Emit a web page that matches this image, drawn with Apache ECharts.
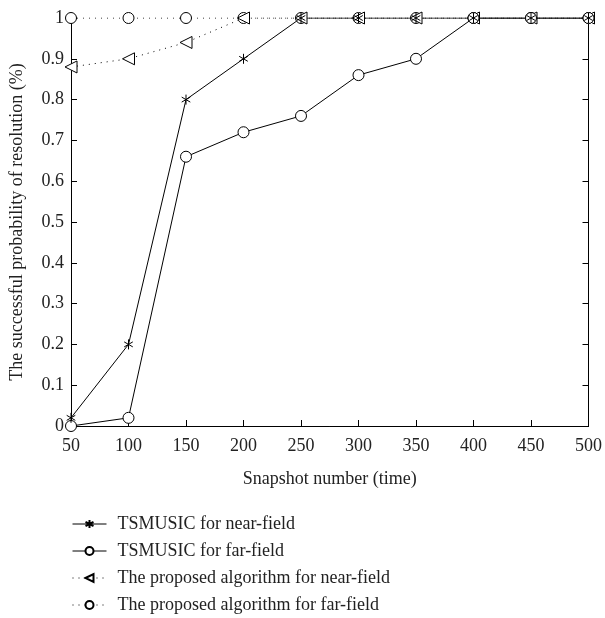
<!DOCTYPE html>
<html lang="en">
<head>
    <meta charset="UTF-8">
    <title>Successful probability of resolution</title>
    <script src="https://cdn.jsdelivr.net/npm/echarts@6.0.0/dist/echarts.min.js"></script>
</head>
<body style="margin:0; background:#fff;">
    <div id="main" style="width:605px;height:618px;"></div>
    <script>
        // snapshot numbers
        var snapshots = [50, 100, 150, 200, 250, 300, 350, 400, 450, 500];
        // series values
        var tsNear = [0.02, 0.2, 0.8, 0.9, 1, 1, 1, 1, 1, 1];
        var tsFar = [0, 0.02, 0.66, 0.72, 0.76, 0.86, 0.9, 1, 1, 1];
        var propNear = [0.88, 0.9, 0.94, 1, 1, 1, 1, 1, 1, 1];
        var propFar = [1, 1, 1, 1, 1, 1, 1, 1, 1, 1];
        var names = [
            'TSMUSIC for near-field',
            'TSMUSIC for far-field',
            'The proposed algorithm for near-field',
            'The proposed algorithm for far-field'
        ];

        function pairs(vals) {
            return snapshots.map(function (x, i) { return [x, vals[i]]; });
        }

        var font = 'Liberation Serif';
        // marker shapes
        var star = 'path://M5,0 L5,10 M0.7,2.5 L9.3,7.5 M0.7,7.5 L9.3,2.5';
        var triLeft = 'path://M0,5 L10,0 L10,10 Z';
        var ring = 'path://M10,5 A5,5 0 1 1 0,5 A5,5 0 1 1 10,5 Z';

        function mkSeries(name, vals, symbol, size, dotted) {
            var fill = symbol === star ? '#000' : '#fff';
            return {
                name: name,
                type: 'line',
                data: pairs(vals),
                symbol: symbol,
                symbolSize: size,
                symbolKeepAspect: true,
                lineStyle: { color: '#000', width: 1, type: dotted ? [1, 5] : 'solid' },
                itemStyle: { color: fill, borderColor: '#000', borderWidth: 1 },
                animation: false
            };
        }

        var chart = echarts.init(document.getElementById('main'));
        chart.setOption({
            backgroundColor: '#fff',
            textStyle: { fontFamily: font, color: '#222' },
            grid: { left: 71, right: 15, top: 18, bottom: 192 },
            legend: {
                orient: 'vertical',
                left: 72,
                top: 515,
                padding: 0,
                itemWidth: 34,
                itemHeight: 10,
                itemGap: 9,
                lineStyle: { width: 1 },
                textStyle: { fontFamily: font, fontSize: 18, color: '#222', padding: [0, 0, 0, 6] },
                data: names
            },
            xAxis: [{
                type: 'value',
                min: 50, max: 500, interval: 50,
                name: 'Snapshot number (time)',
                nameLocation: 'middle',
                nameGap: 44,
                nameTextStyle: { fontSize: 18, color: '#222' },
                axisLine: { lineStyle: { color: '#000', width: 1 } },
                axisTick: { inside: true, length: 6, lineStyle: { color: '#000' } },
                axisLabel: { fontSize: 18, color: '#222', margin: 11 },
                splitLine: { show: false }
            }, {
                type: 'value', position: 'top',
                min: 50, max: 500, interval: 50,
                axisLine: { show: true, lineStyle: { color: '#000', width: 1 } },
                axisTick: { show: false },
                axisLabel: { show: false },
                splitLine: { show: false }
            }],
            yAxis: [{
                type: 'value',
                min: 0, max: 1, interval: 0.1,
                name: 'The successful probability of resolution (%)',
                nameLocation: 'middle',
                nameGap: 45,
                nameTextStyle: { fontSize: 18, color: '#222' },
                axisLine: { show: true, lineStyle: { color: '#000', width: 1 } },
                axisTick: { inside: true, length: 6, lineStyle: { color: '#000' } },
                axisLabel: { fontSize: 18, color: '#222', margin: 7 },
                splitLine: { show: false }
            }, {
                type: 'value', position: 'right',
                min: 0, max: 1, interval: 0.1,
                axisLine: { show: true, lineStyle: { color: '#000', width: 1 } },
                axisTick: { inside: true, length: 6, lineStyle: { color: '#000' } },
                axisLabel: { show: false },
                splitLine: { show: false }
            }],
            series: [
                mkSeries(names[3], propFar, ring, 11, true),
                mkSeries(names[2], propNear, triLeft, 12, true),
                mkSeries(names[1], tsFar, ring, 11, false),
                mkSeries(names[0], tsNear, star, 10, false)
            ]
        });
    </script>
</body>
</html>
